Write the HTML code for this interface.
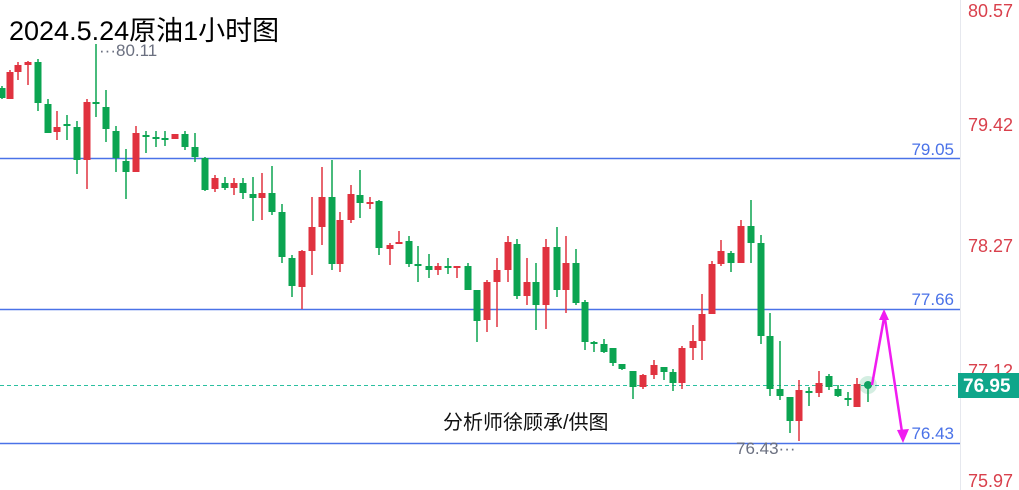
<!DOCTYPE html>
<html><head><meta charset="utf-8"><style>
html,body{margin:0;padding:0;background:#fff;width:1019px;height:490px;overflow:hidden}
svg{display:block}
text{font-family:"Liberation Sans","Noto Sans CJK SC",sans-serif}
</style></head><body>
<svg id="s" width="1019" height="490" xmlns="http://www.w3.org/2000/svg">
<line x1="960.5" y1="0" x2="960.5" y2="490" stroke="#e6e8ee"/>
<line x1="0" y1="158.5" x2="960" y2="158.5" stroke="#4a72e8" stroke-width="1.5"/>
<line x1="0" y1="309.5" x2="960" y2="309.5" stroke="#4a72e8" stroke-width="1.5"/>
<line x1="0" y1="443.5" x2="960" y2="443.5" stroke="#4a72e8" stroke-width="1.5"/>
<line x1="0" y1="385.5" x2="960" y2="385.5" stroke="#2bc0a0" stroke-dasharray="4,3"/>
<g id="c"></g>
<text x="9" y="40" font-size="27" fill="#000">2024.5.24原油1小时图</text>
<text x="443" y="429" font-size="20" fill="#111">分析师徐顾承/供图</text>
<text x="99" y="56" font-size="17" fill="#6b7080">···80.11</text>
<text x="736" y="454" font-size="17" fill="#6b7080">76.43···</text>
<text x="954" y="155" font-size="17" fill="#4a72e8" text-anchor="end">79.05</text>
<text x="954" y="305" font-size="17" fill="#4a72e8" text-anchor="end">77.66</text>
<text x="954" y="439" font-size="17" fill="#4a72e8" text-anchor="end">76.43</text>
<g font-size="18" fill="#d9404c">
<text x="968" y="17">80.57</text>
<text x="968" y="131">79.42</text>
<text x="968" y="252">78.27</text>
<text x="968" y="377">77.12</text>
<text x="968" y="487">75.97</text>
</g>
<rect x="958" y="373" width="61" height="25" fill="#0fa68a"/>
<text x="963" y="392" font-size="19" font-weight="bold" fill="#fff">76.95</text>
<circle cx="868" cy="385" r="9" fill="#0fa060" opacity="0.18"/>
<circle cx="868" cy="385" r="4" fill="#0fa060"/>
<g stroke="#f01cf0" stroke-width="2.5" fill="#f01cf0">
<line x1="872" y1="385" x2="884" y2="318"/>
<line x1="884" y1="312" x2="902" y2="432"/>
<polygon points="884,309 879,320 889,320" stroke="none"/>
<polygon points="903,443 897,430 909,429" stroke="none"/>
</g>
</svg>
<script>
var d=[
[2,86,99,88,98,0],[10,70,99,72,99,1],[18,62,80,65,72,1],[28,61,85,62,65,1],[38,59,111,62,103,0],
[48,99,133,104,133,0],[57,111,140,127,132,1],[67,115,140,124,126,0],[77,121,174,127,160,0],[87,99,189,102,160,1],
[96,44,117,102,104,0],[106,90,142,107,129,0],[116,126,172,131,158,0],[126,149,199,161,172,0],[136,126,172,133,172,1],
[146,131,153,135,137,0],[156,131,147,137,139,0],[165,131,146,138,139,0],[175,134,139,134,139,1],[185,131,150,134,147,0],
[195,133,162,147,157,0],[205,157,191,158,190,0],[215,175,192,178,189,1],[225,177,190,183,188,0],[234,178,195,183,188,1],
[243,178,199,183,193,0],[253,177,221,194,198,0],[262,173,220,193,198,1],[272,166,215,193,212,0],[282,204,263,212,257,0],
[292,255,297,258,286,0],[302,250,309,251,287,1],[312,197,275,227,251,1],[322,167,245,197,227,1],[332,160,270,197,264,0],
[340,212,272,220,264,1],[351,185,223,194,220,1],[360,170,218,195,203,0],[370,197,209,202,204,1],[379,200,255,201,248,0],
[390,243,265,245,249,1],[399,231,244,242,244,1],[409,236,267,241,264,0],[418,246,282,264,266,0],[429,254,278,266,270,0],
[438,263,275,266,270,1],[448,258,274,266,268,0],[457,266,278,266,268,1],[468,263,290,266,290,0],[477,290,342,290,321,0],
[487,280,332,282,320,1],[497,258,327,270,282,1],[508,236,282,242,270,1],[517,239,299,244,296,0],[527,258,305,282,296,1],
[536,263,330,282,305,0],[546,239,329,247,305,1],[557,227,297,247,290,0],[566,236,313,263,290,1],[576,249,305,263,303,0],
[585,300,350,302,342,0],[594,341,352,342,344,0],[604,339,353,344,352,0],[613,348,366,348,363,0],[622,364,370,364,369,0],
[633,371,399,371,387,0],[643,374,389,375,387,1],[654,360,379,365,375,1],[664,367,380,367,372,0],[673,369,391,372,383,0],
[682,346,389,348,383,1],[693,325,360,341,348,1],[702,294,360,314,341,1],[712,261,314,264,314,1],[721,240,266,251,264,1],
[731,251,272,253,263,0],[741,220,263,226,263,1],[751,200,263,226,243,0],[761,235,344,243,336,0],[770,313,396,336,389,0],
[780,341,400,389,396,0],[790,397,433,397,421,0],[799,380,441,390,421,1],[809,387,406,391,393,0],[819,371,397,383,393,1],
[829,374,390,376,387,0],[838,385,397,389,396,0],[848,392,406,398,400,0],[857,378,406,384,407,1],[868,385,402,384,386,0]];
var g=document.getElementById('c'),h='';
d.forEach(function(c){var col=c[5]?'#e0323f':'#0ba451';
h+='<line x1="'+c[0]+'" y1="'+c[1]+'" x2="'+c[0]+'" y2="'+c[2]+'" stroke="'+col+'" stroke-width="1.5"/>';
var bh=Math.max(2,c[4]-c[3]);h+='<rect x="'+(c[0]-3.5)+'" y="'+c[3]+'" width="7" height="'+bh+'" fill="'+col+'"/>';});
g.innerHTML=h;
</script>
</body></html>
